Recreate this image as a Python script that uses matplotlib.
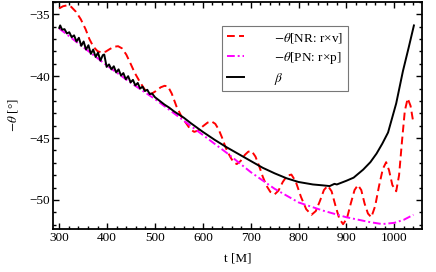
import numpy as np
import matplotlib
matplotlib.use("Agg")
import matplotlib.pyplot as plt
from matplotlib.ticker import MultipleLocator

plt.rcParams['font.family'] = ['Liberation Serif', 'DejaVu Serif']
plt.rcParams['mathtext.fontset'] = 'stix'

# -theta from NR (r x v)
t_nr = [300, 308, 316, 325, 335, 345, 355, 363, 371, 380, 389, 397, 406, 415, 423, 431,
        440, 448, 458, 469, 479, 487, 493, 502, 512, 520, 527, 535, 545, 556, 566, 574,
        582, 590, 600, 610, 618, 626, 633, 640, 648, 657, 664, 671, 679, 688, 695, 702,
        710, 718, 725, 733, 741, 750, 758, 767, 776, 785, 794, 805, 816, 827, 836, 845,
        853, 861, 869, 877, 885, 893, 901, 909, 917, 924, 931, 938, 945, 952, 960, 968,
        976, 983, 989, 996, 1004, 1010, 1016, 1022, 1028, 1034, 1040]
y_nr = [-34.52, -34.35, -34.28, -34.40, -34.80, -35.40, -36.20, -37.00, -37.60, -37.98,
        -38.10, -38.02, -37.80, -37.62, -37.58, -37.75, -38.25, -38.90, -39.75, -40.50,
        -41.10, -41.40, -41.42, -41.20, -40.90, -40.78, -40.82, -41.40, -42.45, -43.30,
        -43.85, -44.30, -44.50, -44.40, -44.05, -43.75, -43.65, -43.85, -44.30, -44.95,
        -45.80, -46.50, -46.95, -47.10, -46.85, -46.35, -46.10, -46.05, -46.50, -47.30,
        -48.10, -48.85, -49.35, -49.55, -49.25, -48.55, -48.05, -47.95, -48.50, -49.75,
        -50.75, -51.20, -50.90, -50.05, -49.20, -48.85, -49.30, -50.45, -51.50, -51.96,
        -51.50, -50.30, -49.20, -48.80, -49.20, -50.30, -51.10, -51.40, -50.50, -48.90,
        -47.50, -46.95, -47.60, -48.80, -49.30, -48.00, -45.30, -42.80, -41.80, -42.40,
        -43.80]

# -theta from PN (r x p)
t_pn = [300, 350, 400, 450, 500, 550, 600, 650, 700, 750, 800, 850, 900, 950, 975,
        1000, 1020, 1040]
y_pn = [-36.15, -37.65, -39.15, -40.55, -41.85, -43.30, -44.75, -46.20, -47.75, -49.10,
        -50.20, -50.85, -51.40, -51.80, -51.95, -51.85, -51.60, -51.20]

# beta
t_beta = [300, 302, 306, 311, 316, 321, 326, 331, 336, 341, 346, 351, 356, 361, 366, 371,
          376, 381, 386, 391, 394, 399, 404, 409, 414, 419, 424, 429, 434, 439, 444, 449,
          454, 459, 464, 469, 474, 479, 484, 489, 494, 500, 510, 520, 530, 540, 550, 560,
          575, 600, 625, 650, 675, 700, 725, 750, 775, 800, 830, 850, 865, 875, 880, 900,
          915, 935, 950, 963, 975, 987, 1004, 1018, 1030, 1041]
y_beta = [-36.10, -35.90, -36.25, -36.20, -36.55, -36.45, -36.85, -36.70, -37.20, -36.90,
          -37.55, -37.20, -37.85, -37.50, -38.20, -37.85, -38.45, -38.10, -38.75, -38.30,
          -38.25, -39.25, -39.05, -39.45, -39.20, -39.70, -39.45, -39.95, -39.75, -40.25,
          -40.00, -40.50, -40.30, -40.75, -40.55, -41.00, -40.85, -41.20, -41.10, -41.45,
          -41.40, -41.70, -42.00, -42.30, -42.55, -42.85, -43.10, -43.35, -43.80, -44.50,
          -45.15, -45.75, -46.30, -46.85, -47.40, -47.85, -48.25, -48.55, -48.75, -48.82,
          -48.88, -48.70, -48.75, -48.45, -48.20, -47.55, -46.95, -46.25, -45.45, -44.55,
          -42.20, -39.60, -37.70, -35.90]

fig = plt.figure(figsize=(4.36, 2.72), dpi=100)
ax = fig.add_axes([0.1216, 0.158, 0.8464, 0.835])

ax.plot(t_nr, y_nr, color="#ff0000", lw=1.4, ls=(0, (4, 2.2)),
        label=r"$-\theta$[NR: r×v]")
ax.plot(t_pn, y_pn, color="#ff00ff", lw=1.4, ls=(0, (4, 1.5, 1, 1.5)),
        label=r"$-\theta$[PN: r×p]")
ax.plot(t_beta, y_beta, color="black", lw=1.4, label=r"$\beta$")

ax.set_xlim(287, 1058)
ax.set_ylim(-52.35, -34.0)
ax.xaxis.set_major_locator(MultipleLocator(100))
ax.xaxis.set_minor_locator(MultipleLocator(20))
ax.yaxis.set_major_locator(MultipleLocator(5))
ax.yaxis.set_minor_locator(MultipleLocator(1))
ax.tick_params(which="both", direction="in", top=True, right=True, labelsize=9.5,
               width=1.0, pad=2)
ax.tick_params(which="major", length=4)
ax.tick_params(which="minor", length=2.2)
for s in ax.spines.values():
    s.set_linewidth(1.3)

ax.set_xlabel("t [M]", fontsize=9.5, labelpad=6)
ax.set_ylabel(r"$-\theta$ [°]", fontsize=9.5, labelpad=7)

leg = ax.legend(loc="upper left", bbox_to_anchor=(0.458, 0.894), fontsize=9.5,
                handlelength=1.3, handletextpad=2.3, borderpad=0.35, labelspacing=0.38,
                borderaxespad=0, fancybox=False, framealpha=1, edgecolor="#777777")
leg.get_frame().set_linewidth(0.8)

fig.savefig("out.png", dpi=100)
